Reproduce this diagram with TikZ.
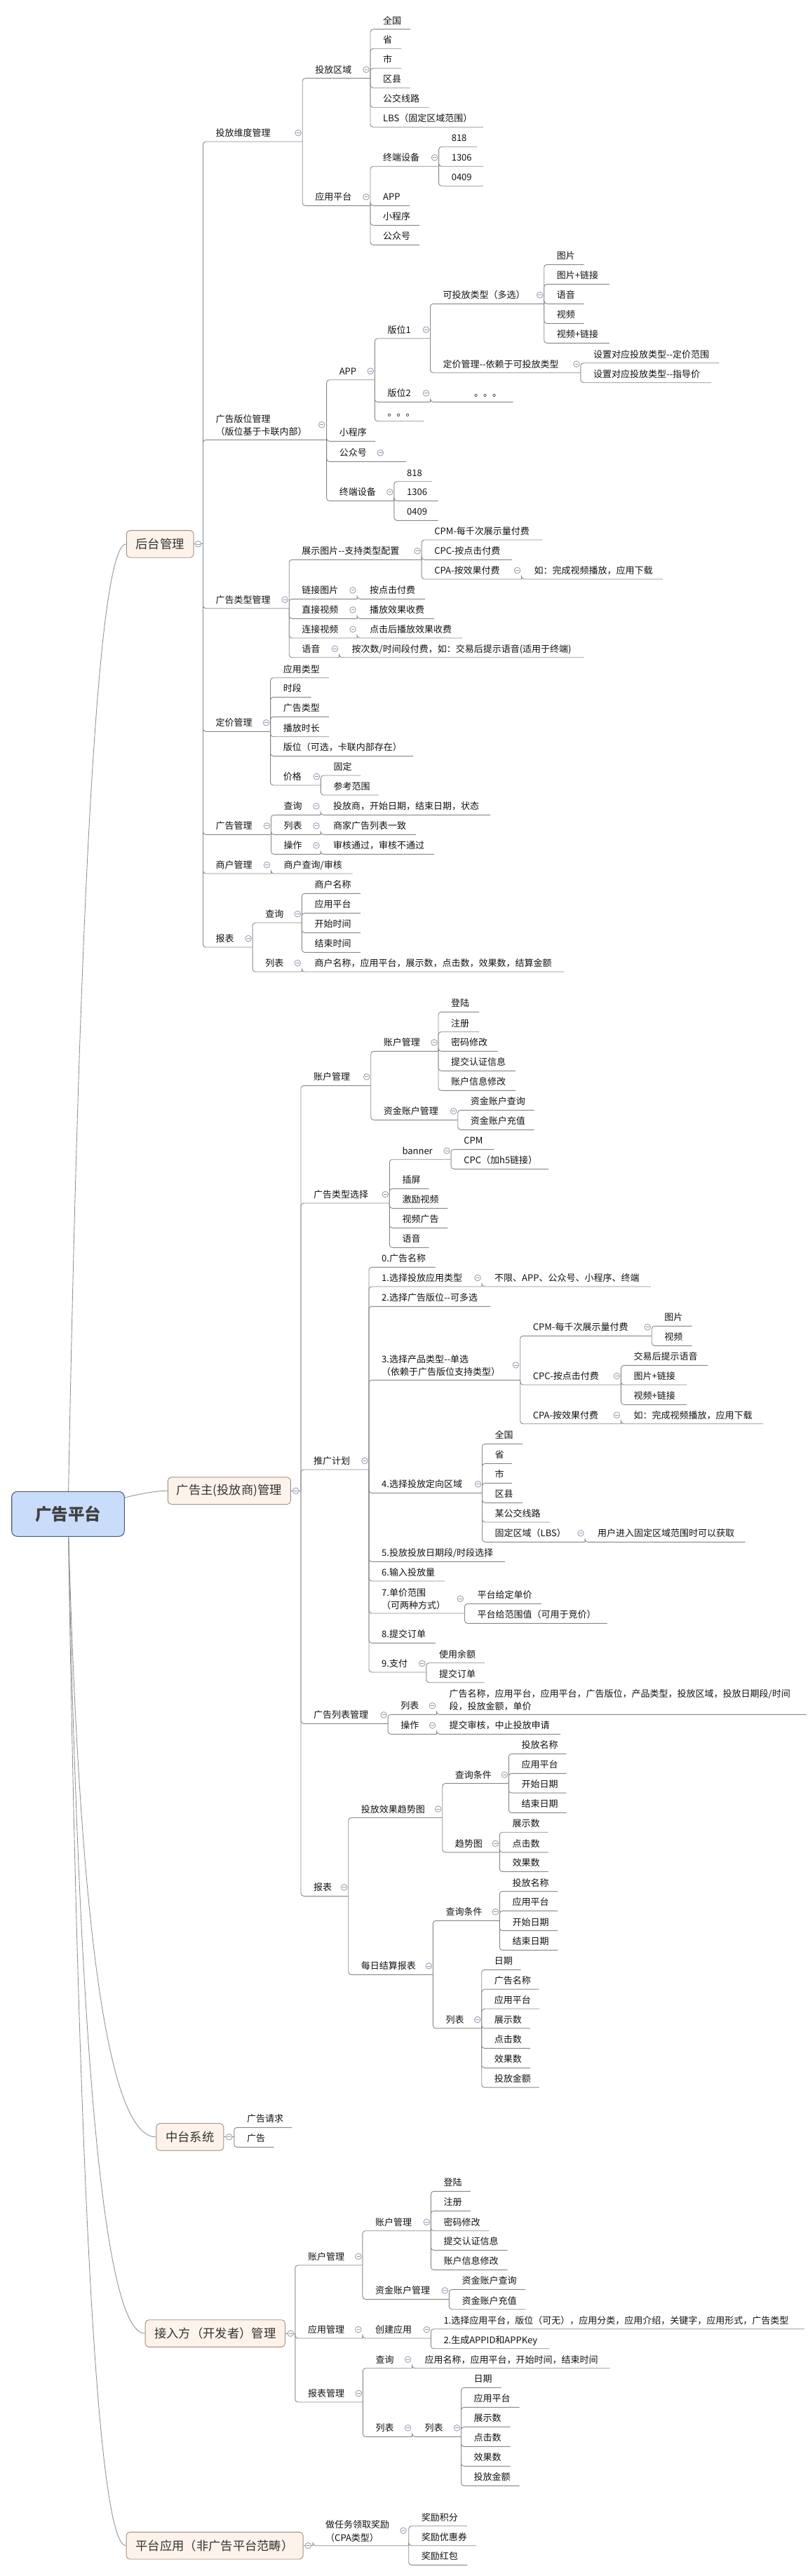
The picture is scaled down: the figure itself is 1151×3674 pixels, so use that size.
\documentclass[tikz,border=0pt]{standalone}
\usepackage{fontspec}
\newfontfamily\mmfont{Noto Sans CJK SC}
\pgfdeclarelayer{bg}
\pgfsetlayers{bg,main}
\definecolor{lnc}{HTML}{888888}
\definecolor{boxf}{HTML}{FDF3EA}
\definecolor{boxd}{HTML}{9C9085}
\definecolor{rootf}{HTML}{C9DCFA}
\definecolor{rootd}{HTML}{4D5E80}
\definecolor{cirb}{HTML}{8E98AC}
\definecolor{txtc}{HTML}{111111}
\tikzset{
  ln/.style={draw=lnc, line width=0.9pt, rounded corners=4pt},
  curv/.style={draw=lnc!90, line width=0.9pt},
  tx/.style={anchor=base west, inner sep=0pt, text=txtc, font=\mmfont\fontsize{13pt}{18.4pt}\selectfont},
  topbox/.style={draw=boxd, fill=boxf, rounded corners=5pt, line width=0.9pt, inner sep=0pt, minimum height=38.6pt, text=black!80, font=\mmfont\fontsize{17.3pt}{20pt}\selectfont},
  rootbox/.style={draw=rootd, fill=rootf, rounded corners=8pt, line width=1.1pt, inner sep=0pt, minimum width=160.6pt, minimum height=64pt, text=black!75, font=\mmfont\fontsize{23.5pt}{26pt}\selectfont\bfseries},
  circ/.style={draw=cirb, fill=white, line width=0.8pt},
  cirm/.style={draw=cirb, line width=0.8pt}
}
\newcommand\mmT[5]{\coordinate (#1-e) at (#4,#3);\node[tx] (#1) at ({#2+18},{#3-7.5}) {#5};}
\newcommand\mmQ[6]{\coordinate (#1-e) at (#4,#3);\node[tx] (#1) at ({#2+18},{#3-6.6}) {\begin{tabular}[b]{@{}l@{}}#5\\#6\end{tabular}};}
\newcommand\mmC[2]{\draw[circ] (#1,#2) circle (4.3pt);\draw[cirm] ({#1-2.4},#2) -- ({#1+2.4},#2);}
\newcommand\mmP[1]{\path (#1-e) ++(-6,-12.5) coordinate (#1-c);\draw[circ] (#1-c) circle (4.3pt);\draw[cirm] ([xshift=-2.4pt]#1-c) -- ([xshift=2.4pt]#1-c);}
\newcommand\mmB[2]{\foreach \mmc in {#2}{\draw[ln] (#1-e) |- (\mmc-e);}}
\begin{document}
\begin{tikzpicture}[x=1pt,y=-1pt]
\useasboundingbox (0,0) rectangle (1151,3674);
% ---------- root and main boxes
\node[rootbox] (R) at (97,2159.3) {广告平台};
\node[topbox,minimum width=95.8pt] (H) at (228.2,775.9) {后台管理};
\node[topbox,minimum width=175pt] (G) at (326.8,2126.2) {广告主(投放商)管理};
\node[topbox,minimum width=96pt] (Z) at (270.8,3047.8) {中台系统};
\node[topbox,minimum width=199.4pt] (J) at (306.8,3328) {接入方（开发者）管理};
\node[topbox,minimum width=252pt] (P) at (306.1,3630.7) {平台应用（非广告平台范畴）};
\begin{pgfonlayer}{bg}
\draw[curv] (R.center) .. controls (113.7,1237.1) and (141.4,775.9) .. (H.west);
\draw[curv] (R.center) .. controls (165.7,2137.2) and (213.1,2126.2) .. (G.west);
\draw[curv] (R.center) .. controls (112.3,2751.6) and (154.2,3047.8) .. (Z.west);
\draw[curv] (R.center) .. controls (112.3,2938.4) and (149,3328) .. (J.west);
\draw[curv] (R.center) .. controls (112.3,3139.8) and (140,3630.7) .. (P.west);
\end{pgfonlayer}
\coordinate (H-e) at (289.5,775.9);
\coordinate (G-e) at (429,2126.2);
\coordinate (Z-e) at (333.8,3047.8);
\coordinate (J-e) at (420.8,3328);
\coordinate (P-e) at (446,3630.7);
\draw[ln] (H.east) -- (H-e);
\draw[ln] (G.east) -- (G-e);
\draw[ln] (Z.east) -- (Z-e);
\draw[ln] (J.east) -- (J-e);
\draw[ln] (P.east) -- (P-e);
% ---------- 后台管理
\mmT{h1}{289.5}{202}{431.2}{投放维度管理}\mmP{h1}
\mmQ{h2}{289.5}{627.3}{465.6}{广告版位管理}{（版位基于卡联内部）}\mmC{458.7}{605.7}
\mmT{h3}{289.5}{867.7}{412.2}{广告类型管理}\mmP{h3}
\mmT{h4}{289.5}{1043.3}{385.6}{定价管理}\mmP{h4}
\mmT{h5}{289.5}{1190.3}{386.5}{广告管理}\mmP{h5}
\mmT{h6}{289.5}{1246}{386.5}{商户管理}\mmP{h6}
\mmT{h7}{289.5}{1351}{360.1}{报表}\mmP{h7}
\mmB{H}{h1,h2,h3,h4,h5,h6,h7}
\mmT{h11}{431.2}{111.7}{528}{投放区域}\mmP{h11}
\mmT{h12}{431.2}{293.3}{528}{应用平台}\mmP{h12}
\mmB{h1}{h11,h12}
\mmT{h111}{528}{41.7}{585.2}{全国}
\mmT{h112}{528}{69.3}{572.3}{省}
\mmT{h113}{528}{97.3}{572.3}{市}
\mmT{h114}{528}{125.3}{585.2}{区县}
\mmT{h115}{528}{153.3}{611.5}{公交线路}
\mmT{h116}{528}{181.3}{688.9}{LBS（固定区域范围）}
\mmB{h11}{h111,h112,h113,h114,h115,h116}
\mmT{h121}{528}{237.3}{625.6}{终端设备}\mmP{h121}
\mmT{h122}{528}{293.3}{584.4}{APP}
\mmT{h123}{528}{321.3}{598.1}{小程序}
\mmT{h124}{528}{349.3}{598.1}{公众号}
\mmB{h12}{h121,h122,h123,h124}
\mmT{h1211}{625.6}{209.3}{680}{818}
\mmT{h1212}{625.6}{237.3}{688.9}{1306}
\mmT{h1213}{625.6}{265.3}{688.9}{0409}
\mmB{h121}{h1211,h1212,h1213}
\mmT{h21}{465.6}{541.7}{534.3}{APP}\mmP{h21}
\mmT{h22}{465.6}{629.3}{535.3}{小程序}
\mmT{h23}{465.6}{658.3}{578.9}{公众号}\mmC{542.2}{645.8}
\mmT{h24}{465.6}{714.3}{561.9}{终端设备}\mmP{h24}
\mmB{h2}{h21,h22,h23,h24}
\mmT{h211}{534.3}{482.7}{613.5}{版位1}\mmP{h211}
\mmT{h212}{534.3}{573.3}{613.5}{版位2}\mmP{h212}
\mmT{h213}{534.3}{600.7}{604.5}{。。。}
\mmB{h21}{h211,h212,h213}
\mmT{h2111}{613.5}{433.3}{775.7}{可投放类型（多选）}\mmP{h2111}
\mmT{h2112}{613.5}{531.7}{827.9}{定价管理--依赖于可投放类型}\mmP{h2112}
\mmB{h211}{h2111,h2112}
\mmT{h21111}{775.7}{377.3}{832.7}{图片}
\mmT{h21112}{775.7}{405.3}{868.8}{图片+链接}
\mmT{h21113}{775.7}{433.3}{832.7}{语音}
\mmT{h21114}{775.7}{461.3}{832.7}{视频}
\mmT{h21115}{775.7}{489.3}{868.8}{视频+链接}
\mmB{h2111}{h21111,h21112,h21113,h21114,h21115}
\mmT{h21121}{827.9}{517.7}{1025}{设置对应投放类型--定价范围}
\mmT{h21122}{827.9}{545.7}{1014}{设置对应投放类型--指导价}
\mmB{h2112}{h21121,h21122}
\coordinate (h2121-e) at (731.6,573.3);
\node[tx] (h2121) at (676,565.8) {。。。};
\mmB{h212}{h2121}
\mmT{h241}{561.9}{686.7}{616.2}{818}
\mmT{h242}{561.9}{714.3}{624.7}{1306}
\mmT{h243}{561.9}{742.3}{624.7}{0409}
\mmB{h24}{h241,h242,h243}
\mmT{h31}{412.2}{798.3}{601.1}{展示图片--支持类型配置}\mmP{h31}
\mmT{h32}{412.2}{854.3}{509}{链接图片}\mmP{h32}
\mmT{h33}{412.2}{882.3}{509}{直接视频}\mmP{h33}
\mmT{h34}{412.2}{910}{509}{连接视频}\mmP{h34}
\mmT{h35}{412.2}{937.7}{483.5}{语音}\mmP{h35}
\mmB{h3}{h31,h32,h33,h34,h35}
\mmT{h311}{601.1}{770}{773.4}{CPM-每千次展示量付费}
\mmT{h312}{601.1}{798.3}{729.8}{CPC-按点击付费}
\mmT{h313}{601.1}{826}{743.5}{CPA-按效果付费}\mmP{h313}
\mmB{h31}{h311,h312,h313}
\mmT{h3131}{743.5}{826}{945.2}{如：完成视频播放，应用下载}\mmB{h313}{h3131}
\mmT{h321}{509}{854.3}{605.9}{按点击付费}\mmB{h32}{h321}
\mmT{h331}{509}{882.3}{619.1}{播放效果收费}\mmB{h33}{h331}
\mmT{h341}{509}{910}{659}{点击后播放效果收费}\mmB{h34}{h341}
\mmT{h351}{483.5}{937.7}{832.4}{按次数/时间段付费，如：交易后提示语音(适用于终端)}\mmB{h35}{h351}
\mmT{h41}{385.6}{966.7}{469.1}{应用类型}
\mmT{h42}{385.6}{994.3}{443.6}{时段}
\mmT{h43}{385.6}{1022.3}{469.1}{广告类型}
\mmT{h44}{385.6}{1050.7}{469.1}{播放时长}
\mmT{h45}{385.6}{1078.3}{588.8}{版位（可选，卡联内部存在）}
\mmT{h46}{385.6}{1120}{457.4}{价格}\mmP{h46}
\mmB{h4}{h41,h42,h43,h44,h45,h46}
\mmT{h461}{457.4}{1106}{514.4}{固定}
\mmT{h462}{457.4}{1134}{539.9}{参考范围}
\mmB{h46}{h461,h462}
\mmT{h51}{386.5}{1162.3}{457}{查询}\mmP{h51}
\mmT{h52}{386.5}{1190.3}{457}{列表}\mmP{h52}
\mmT{h53}{386.5}{1218.3}{457}{操作}\mmP{h53}
\mmB{h5}{h51,h52,h53}
\mmT{h511}{457}{1162.3}{699}{投放商，开始日期，结束日期，状态}\mmB{h51}{h511}
\mmT{h521}{457}{1190.3}{593.1}{商家广告列表一致}\mmB{h52}{h521}
\mmT{h531}{457}{1218.3}{619.1}{审核通过，审核不通过}\mmB{h53}{h531}
\mmT{h61}{386.5}{1246}{502.7}{商户查询/审核}\mmB{h6}{h61}
\mmT{h71}{360.1}{1316}{430.3}{查询}\mmP{h71}
\mmT{h72}{360.1}{1386}{430.3}{列表}\mmP{h72}
\mmB{h7}{h71,h72}
\mmT{h711}{430.3}{1274.3}{513.8}{商户名称}
\mmT{h712}{430.3}{1302.3}{513.8}{应用平台}
\mmT{h713}{430.3}{1330.3}{513.8}{开始时间}
\mmT{h714}{430.3}{1358.3}{513.8}{结束时间}
\mmB{h71}{h711,h712,h713,h714}
\mmT{h721}{430.3}{1386}{804.3}{商户名称，应用平台，展示数，点击数，效果数，结算金额}\mmB{h72}{h721}
% ---------- 广告主
\mmT{g1}{429}{1548.3}{528.7}{账户管理}\mmP{g1}
\mmT{g2}{429}{1716}{555.3}{广告类型选择}\mmP{g2}
\mmT{g3}{429}{2096}{526}{推广计划}\mmP{g3}
\mmT{g4}{429}{2458.3}{553.1}{广告列表管理}\mmP{g4}
\mmT{g5}{429}{2704.3}{496.7}{报表}\mmP{g5}
\mmB{G}{g1,g2,g3,g4,g5}
\mmT{g11}{528.7}{1499.3}{625}{账户管理}\mmP{g11}
\mmT{g12}{528.7}{1597.3}{652.7}{资金账户管理}\mmP{g12}
\mmB{g1}{g11,g12}
\mmT{g111}{625}{1443.3}{683}{登陆}
\mmT{g112}{625}{1471.7}{683}{注册}
\mmT{g113}{625}{1499.3}{709.6}{密码修改}
\mmT{g114}{625}{1527.3}{735.1}{提交认证信息}
\mmT{g115}{625}{1555.3}{735.1}{账户信息修改}
\mmB{g11}{g111,g112,g113,g114,g115}
\mmT{g121}{652.7}{1583.3}{761.7}{资金账户查询}
\mmT{g122}{652.7}{1611.3}{761.7}{资金账户充值}
\mmB{g12}{g121,g122}
\mmT{g21}{555.3}{1653.7}{643.1}{banner}\mmP{g21}
\mmT{g22}{555.3}{1695.3}{611.7}{插屏}
\mmT{g23}{555.3}{1723.3}{638.3}{激励视频}
\mmT{g24}{555.3}{1751.3}{638.3}{视频广告}
\mmT{g25}{555.3}{1779.3}{611.7}{语音}
\mmB{g2}{g21,g22,g23,g24,g25}
\mmT{g211}{643.1}{1639.3}{704.3}{CPM}
\mmT{g212}{643.1}{1667.3}{781.9}{CPC（加h5链接）}
\mmB{g21}{g211,g212}
\mmT{g30}{526}{1807.3}{620.8}{0.广告名称}
\mmT{g31}{526}{1835}{687}{1.选择投放应用类型}\mmP{g31}
\mmT{g32}{526}{1863.3}{699}{2.选择广告版位--可多选}
\mmQ{g33}{526}{1968.3}{741.7}{3.选择产品类型--单选}{（依赖于广告版位支持类型）}\mmC{735.4}{1946.9}
\mmT{g34}{526}{2129.3}{687.5}{4.选择投放定向区域}\mmP{g34}
\mmT{g35}{526}{2227.3}{719.8}{5.投放投放日期段/时段选择}
\mmT{g36}{526}{2255}{633.9}{6.输入投放量}
\mmQ{g37}{526}{2301}{662.5}{7.单价范围}{（可两种方式）}\mmC{656.3}{2280.2}
\mmT{g38}{526}{2343.3}{620.8}{8.提交订单}
\mmT{g39}{526}{2385}{607.8}{9.支付}\mmP{g39}
\mmB{g3}{g30,g31,g32,g33,g34,g35,g36,g37,g38,g39}
\mmT{g311}{687}{1835}{928.1}{不限、APP、公众号、小程序、终端}\mmB{g31}{g311}
\mmT{g331}{741.7}{1905.3}{929.2}{CPM-每千次展示量付费}\mmP{g331}
\mmT{g332}{741.7}{1975}{885.4}{CPC-按点击付费}\mmP{g332}
\mmT{g333}{741.7}{2030.7}{885.4}{CPA-按效果付费}\mmP{g333}
\mmB{g33}{g331,g332,g333}
\mmT{g3311}{929.2}{1891.3}{986.5}{图片}
\mmT{g3312}{929.2}{1919.3}{986.5}{视频}
\mmB{g331}{g3311,g3312}
\mmT{g3321}{885.4}{1947.3}{1008.9}{交易后提示语音}
\mmT{g3322}{885.4}{1975}{979.2}{图片+链接}
\mmT{g3323}{885.4}{2003.3}{979.2}{视频+链接}
\mmB{g332}{g3321,g3322,g3323}
\mmT{g3331}{885.4}{2030.7}{1088}{如：完成视频播放，应用下载}\mmB{g333}{g3331}
\mmT{g341}{687.5}{2059.3}{744.8}{全国}
\mmT{g342}{687.5}{2087.3}{730.2}{省}
\mmT{g343}{687.5}{2115.3}{730.2}{市}
\mmT{g344}{687.5}{2143.3}{744.8}{区县}
\mmT{g345}{687.5}{2171}{783.9}{某公交线路}
\mmT{g346}{687.5}{2199.3}{834}{固定区域（LBS）}\mmP{g346}
\mmB{g34}{g341,g342,g343,g344,g345,g346}
\mmT{g3461}{834}{2199.3}{1062.5}{用户进入固定区域范围时可以获取}\mmB{g346}{g3461}
\mmT{g371}{662.5}{2287.3}{771.9}{平台给定单价}
\mmT{g372}{662.5}{2315.3}{865.6}{平台给范围值（可用于竞价）}
\mmB{g37}{g371,g372}
\mmT{g391}{607.8}{2371.7}{691.1}{使用余额}
\mmT{g392}{607.8}{2399.7}{691.1}{提交订单}
\mmB{g39}{g391,g392}
\mmT{g41}{553.1}{2445.3}{622.5}{列表}\mmP{g41}
\mmT{g42}{553.1}{2473.3}{622.5}{操作}\mmP{g42}
\mmB{g4}{g41,g42}
\mmQ{g411}{622.5}{2445.3}{1149.5}{广告名称，应用平台，应用平台，广告版位，产品类型，投放区域，投放日期段/时间}{段，投放金额，单价}\mmB{g41}{g411}
\mmT{g421}{622.5}{2473.3}{798.9}{提交审核，中止投放申请}\mmB{g42}{g421}
\mmT{g51}{496.7}{2592.5}{630.7}{投放效果趋势图}\mmP{g51}
\mmT{g52}{496.7}{2816.4}{617.3}{每日结算报表}\mmP{g52}
\mmB{g5}{g51,g52}
\mmT{g511}{630.7}{2543.6}{725.3}{查询条件}\mmP{g511}
\mmT{g512}{630.7}{2641.8}{712.3}{趋势图}\mmP{g512}
\mmB{g51}{g511,g512}
\mmT{g5111}{725.3}{2501.4}{807.7}{投放名称}
\mmT{g5112}{725.3}{2529.3}{807.7}{应用平台}
\mmT{g5113}{725.3}{2557.1}{807.7}{开始日期}
\mmT{g5114}{725.3}{2585.4}{807.7}{结束日期}
\mmB{g511}{g5111,g5112,g5113,g5114}
\mmT{g5121}{712.3}{2613.2}{781.7}{展示数}
\mmT{g5122}{712.3}{2641.8}{781.7}{点击数}
\mmT{g5123}{712.3}{2669.3}{781.7}{效果数}
\mmB{g512}{g5121,g5122,g5123}
\mmT{g521}{617.3}{2739.3}{712.3}{查询条件}\mmP{g521}
\mmT{g522}{617.3}{2892.9}{686.7}{列表}\mmP{g522}
\mmB{g52}{g521,g522}
\mmT{g5211}{712.3}{2697.5}{795}{投放名称}
\mmT{g5212}{712.3}{2725.4}{795}{应用平台}
\mmT{g5213}{712.3}{2753.6}{795}{开始日期}
\mmT{g5214}{712.3}{2781.4}{795}{结束日期}
\mmB{g521}{g5211,g5212,g5213,g5214}
\mmT{g5221}{686.7}{2809.3}{742.7}{日期}
\mmT{g5222}{686.7}{2837.1}{768.7}{广告名称}
\mmT{g5223}{686.7}{2865}{768.7}{应用平台}
\mmT{g5224}{686.7}{2892.9}{756}{展示数}
\mmT{g5225}{686.7}{2921.4}{756}{点击数}
\mmT{g5226}{686.7}{2949.3}{756}{效果数}
\mmT{g5227}{686.7}{2977.1}{768.7}{投放金额}
\mmB{g522}{g5221,g5222,g5223,g5224,g5225,g5226,g5227}
% ---------- 中台系统
\mmT{z1}{333.8}{3034.3}{416.2}{广告请求}
\mmT{z2}{333.8}{3062.3}{390.3}{广告}
\mmB{Z}{z1,z2}
% ---------- 接入方
\mmT{j1}{420.8}{3230.7}{516.9}{账户管理}\mmP{j1}
\mmT{j2}{420.8}{3335}{516.9}{应用管理}\mmP{j2}
\mmT{j3}{420.8}{3426}{517.3}{报表管理}\mmP{j3}
\mmB{J}{j1,j2,j3}
\mmT{j11}{516.9}{3181.7}{614.3}{账户管理}\mmP{j11}
\mmT{j12}{516.9}{3279.3}{640.3}{资金账户管理}\mmP{j12}
\mmB{j1}{j11,j12}
\mmT{j111}{614.3}{3125.3}{670.8}{登陆}
\mmT{j112}{614.3}{3153.3}{670.8}{注册}
\mmT{j113}{614.3}{3181.7}{697.4}{密码修改}
\mmT{j114}{614.3}{3209.3}{723.6}{提交认证信息}
\mmT{j115}{614.3}{3237.3}{723.6}{账户信息修改}
\mmB{j11}{j111,j112,j113,j114,j115}
\mmT{j121}{640.3}{3265.3}{749.4}{资金账户查询}
\mmT{j122}{640.3}{3293.7}{749.4}{资金账户充值}
\mmB{j12}{j121,j122}
\mmT{j21}{516.9}{3335}{614.3}{创建应用}\mmP{j21}
\mmB{j2}{j21}
\mmT{j211}{614.3}{3321.7}{1146.8}{1.选择应用平台，版位（可无），应用分类，应用介绍，关键字，应用形式，广告类型}
\mmT{j212}{614.3}{3349.7}{783.1}{2.生成APPID和APPKey}
\mmB{j21}{j211,j212}
\mmT{j31}{517.3}{3377.7}{587.5}{查询}\mmP{j31}
\mmT{j32}{517.3}{3475.3}{587.5}{列表}\mmP{j32}
\mmB{j3}{j31,j32}
\mmT{j311}{587.5}{3377.7}{869.5}{应用名称，应用平台，开始时间，结束时间}\mmB{j31}{j311}
\mmT{j321}{587.5}{3475.3}{657.5}{列表}\mmP{j321}\mmB{j32}{j321}
\mmT{j3211}{657.5}{3405.3}{714.7}{日期}
\mmT{j3212}{657.5}{3433.3}{740.6}{应用平台}
\mmT{j3213}{657.5}{3461.3}{727.7}{展示数}
\mmT{j3214}{657.5}{3489.3}{727.7}{点击数}
\mmT{j3215}{657.5}{3517.3}{727.7}{效果数}
\mmT{j3216}{657.5}{3545.3}{740.6}{投放金额}
\mmB{j321}{j3211,j3212,j3213,j3214,j3215,j3216}
% ---------- 平台应用
\mmQ{p1}{446}{3630.7}{582.7}{做任务领取奖励}{（CPA类型）}\mmC{575}{3609.2}
\mmB{P}{p1}
\mmT{p11}{582.7}{3602.7}{665.8}{奖励积分}
\mmT{p12}{582.7}{3630.7}{678.8}{奖励优惠券}
\mmT{p13}{582.7}{3658.3}{665.8}{奖励红包}
\mmB{p1}{p11,p12,p13}
% ---------- collapse markers on main boxes
\mmC{282.5}{775.9}
\mmC{421.7}{2126.2}
\mmC{326.6}{3047.8}
\mmC{414.3}{3328}
\mmC{439.4}{3630.7}
\end{tikzpicture}
\end{document}
